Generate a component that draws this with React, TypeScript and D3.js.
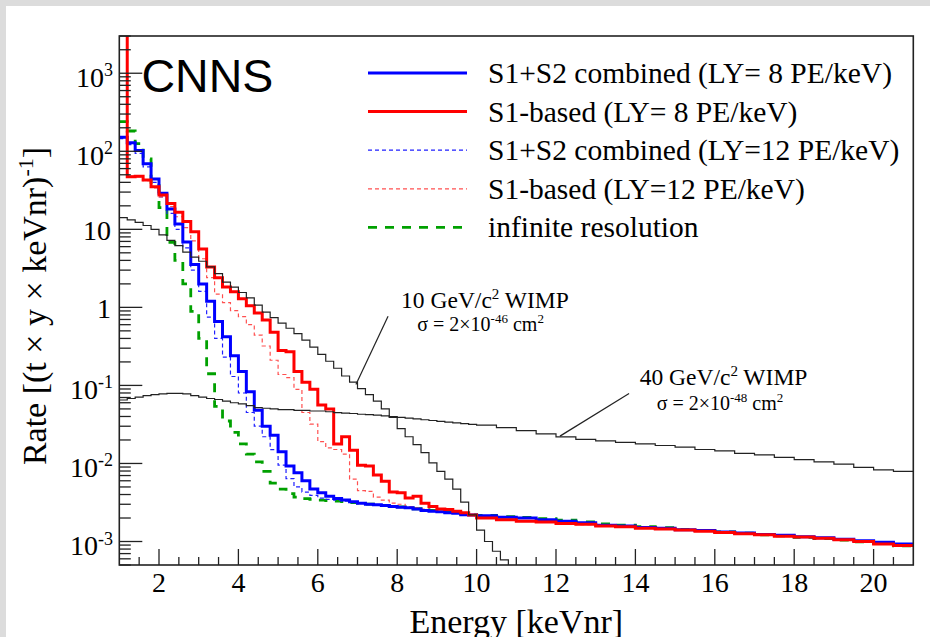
import React from "react";
import * as d3 from "d3";

const W = 930;
const H = 637;
const frame = { left: 119.3, right: 913.3, top: 36, bottom: 565 };

const xDomain: [number, number] = [1, 21];
const yDomain: [number, number] = [5e-4, 3000];
const xMajorTicks = [2, 4, 6, 8, 10, 12, 14, 16, 18, 20];
const xMinorTicks = d3.range(1.5, 21, 0.5).filter((v) => v % 2 !== 0);
const yDecades = [1e-3, 1e-2, 1e-1, 1, 10, 1e2, 1e3];
const yDecadeLabels: [string, string][] = [
  ["10", "-3"],
  ["10", "-2"],
  ["10", "-1"],
  ["1", ""],
  ["10", ""],
  ["10", "2"],
  ["10", "3"],
];

// bin edges (keVnr): 0.2 keV bins from 1 to 10, 0.5 keV bins from 10 to 21
const fineEdges = d3.range(45).map((i) => +(1 + 0.2 * i).toFixed(2));
const coarseEdges = d3.range(23).map((i) => 10 + 0.5 * i);
const binEdges = [...fineEdges, ...coarseEdges];
const wimp10Edges = d3.range(51).map((i) => +(1 + 0.2 * i).toFixed(2));

// S1+S2 combined, LY = 8 PE/keV
const blueLY8 = [
  151, 129, 102, 69, 44, 29, 18.2, 11.7, 6.9, 3.55,
  2.0, 1.2, 0.66, 0.42, 0.24, 0.151, 0.083, 0.048, 0.030, 0.023,
  0.0141, 0.0093, 0.0076, 0.006, 0.0047, 0.0042, 0.0038, 0.00355, 0.0034, 0.00324,
  0.0031, 0.003, 0.00295, 0.0029, 0.0028, 0.00275, 0.0027, 0.0026, 0.0025, 0.00245,
  0.0024, 0.00234, 0.0023, 0.0022, 0.00219,
  0.00214, 0.00204, 0.002, 0.0019, 0.00182, 0.00174, 0.00162, 0.00158, 0.00151, 0.00148, 0.00141,
  0.00138, 0.00132, 0.00129, 0.00123, 0.0012, 0.00115, 0.00112, 0.00107, 0.00102, 0.00098, 0.00093,
];

// S1-based, LY = 8 PE/keV
const redLY8 = [
  6000, 47, 48, 43, 35, 27.5, 21.4, 16.6, 12.6, 9.3,
  5.6, 3.3, 2.4, 1.82, 1.58, 1.29, 1.05, 0.85, 0.69, 0.48,
  0.28, 0.27, 0.151, 0.11, 0.089, 0.056, 0.05, 0.0178, 0.022, 0.0148,
  0.0095, 0.0093, 0.0071, 0.0059, 0.0043, 0.0042, 0.0036, 0.0038, 0.0031, 0.0028,
  0.0026, 0.00257, 0.00245, 0.00234, 0.00219,
  0.002, 0.0019, 0.00182, 0.00178, 0.0017, 0.00166, 0.00158, 0.00155, 0.00148, 0.00145, 0.0014,
  0.00135, 0.0013, 0.00126, 0.00122, 0.00117, 0.00114, 0.0011, 0.00105, 0.001, 0.00093, 0.00089,
];

// S1+S2 combined, LY = 12 PE/keV
const blueLY12 = [
  145, 122, 94, 63, 40, 26, 16, 10, 5.8, 3.0,
  1.6, 0.75, 0.4, 0.23, 0.13, 0.08, 0.045, 0.03, 0.022, 0.015,
  0.0095, 0.0064, 0.005, 0.0043, 0.0039, 0.0036, 0.00347, 0.0034, 0.0033, 0.0032,
  0.00308, 0.00298, 0.00293, 0.00288, 0.00281, 0.00274, 0.00268, 0.00259, 0.00251, 0.00246,
  0.00239, 0.00235, 0.00229, 0.00222, 0.00218,
  0.00213, 0.00205, 0.00199, 0.00191, 0.00181, 0.00175, 0.00163, 0.00157, 0.00152, 0.00147, 0.00142,
  0.00137, 0.00133, 0.00128, 0.00124, 0.00119, 0.00116, 0.00111, 0.00108, 0.00101, 0.00099, 0.00094,
];

// S1-based, LY = 12 PE/keV
const redLY12 = [
  6000, 48, 47, 42, 34, 26, 19.5, 14.5, 10.5, 7.1,
  4.2, 2.4, 1.48, 1.15, 0.91, 0.76, 0.6, 0.44, 0.32, 0.21,
  0.138, 0.126, 0.089, 0.045, 0.032, 0.019, 0.0158, 0.0151, 0.0132, 0.0063,
  0.0045, 0.0044, 0.0037, 0.0034, 0.0031, 0.003, 0.0028, 0.0027, 0.0026, 0.0025,
  0.00242, 0.00235, 0.0023, 0.0022, 0.00216,
  0.00201, 0.00192, 0.00184, 0.00178, 0.00171, 0.00165, 0.00159, 0.00154, 0.00149, 0.00145, 0.0014,
  0.00136, 0.00131, 0.00127, 0.00122, 0.00118, 0.00114, 0.0011, 0.00106, 0.00101, 0.00095, 0.0009,
];

// infinite resolution
const infiniteRes = [
  240, 182, 125, 80, 40, 19, 6.8, 4.0, 2.0, 0.89,
  0.4, 0.141, 0.054, 0.035, 0.025, 0.0178, 0.0132, 0.0105, 0.0079, 0.0056,
  0.0047, 0.0041, 0.0037, 0.00355, 0.00347, 0.0034, 0.00335, 0.0033, 0.00324, 0.00316,
  0.0031, 0.00302, 0.00296, 0.0029, 0.00283, 0.00277, 0.0027, 0.00263, 0.00256, 0.0025,
  0.00244, 0.00238, 0.00232, 0.00226, 0.0022,
  0.00216, 0.00208, 0.00203, 0.00196, 0.00188, 0.00178, 0.00168, 0.00162, 0.00155, 0.0015, 0.00143,
  0.00139, 0.00133, 0.00128, 0.00122, 0.00118, 0.00113, 0.00109, 0.00104, 0.00099, 0.00094, 0.00088,
];

// 10 GeV/c^2 WIMP, sigma = 2e-46 cm^2 (0.2 keV bins, 1 to 11 keVnr)
const wimp10 = [
  14.1, 13.2, 12.3, 11.2, 10, 8.5, 7.2, 6.2, 5.1, 4.4,
  3.9, 3.3, 2.7, 2.1, 1.82, 1.55, 1.32, 1.07, 0.87, 0.74,
  0.63, 0.54, 0.46, 0.38, 0.31, 0.25, 0.204, 0.166, 0.132, 0.11,
  0.091, 0.076, 0.063, 0.05, 0.039, 0.028, 0.022, 0.0174, 0.0138, 0.0102,
  0.0079, 0.0063, 0.0047, 0.0032, 0.0022, 0.0014, 0.001, 0.00075, 0.00058, 0.0003,
];

// 40 GeV/c^2 WIMP, sigma = 2e-48 cm^2
const wimp40 = [
  0.065, 0.068, 0.071, 0.074, 0.076, 0.078, 0.079, 0.079, 0.078, 0.074,
  0.071, 0.068, 0.066, 0.063, 0.06, 0.058, 0.055, 0.052, 0.051, 0.05,
  0.049, 0.049, 0.048, 0.048, 0.047, 0.047, 0.046, 0.0447, 0.0442, 0.0437,
  0.0427, 0.0422, 0.0417, 0.0407, 0.0398, 0.0389, 0.038, 0.0372, 0.0363, 0.0355,
  0.0347, 0.0339, 0.0331, 0.0324, 0.0316,
  0.0309, 0.0288, 0.0263, 0.024, 0.0219, 0.0204, 0.0195, 0.0186, 0.0178, 0.017, 0.0162,
  0.0151, 0.0145, 0.0135, 0.0129, 0.012, 0.0112, 0.0105, 0.0098, 0.0089, 0.0083, 0.0079,
];

const legendEntries = [
  { label: "S1+S2 combined (LY= 8 PE/keV)", color: "#0000ff", width: 3, dash: "" },
  { label: "S1-based (LY= 8 PE/keV)", color: "#ff0000", width: 3, dash: "" },
  { label: "S1+S2 combined (LY=12 PE/keV)", color: "#1f1fff", width: 1.2, dash: "4 3" },
  { label: "S1-based (LY=12 PE/keV)", color: "#ff5050", width: 1.2, dash: "4 3" },
  { label: "infinite resolution", color: "#00a000", width: 2.8, dash: "9 8" },
];

const SERIF = "'Liberation Serif', 'Times New Roman', Times, serif";
const SANS = "'Liberation Sans', Arial, Helvetica, sans-serif";

export default function App() {
  const x = d3.scaleLinear().domain(xDomain).range([frame.left, frame.right]);
  const y = d3.scaleLog().domain(yDomain).range([frame.bottom, frame.top]);

  const hist = (edges: number[], values: number[]) => {
    const pts: [number, number][] = values.map((v, i) => [edges[i], v]);
    pts.push([edges[values.length], values[values.length - 1]]);
    const line = d3
      .line<[number, number]>()
      .x((d) => x(d[0]))
      .y((d) => y(d[1]))
      .curve(d3.curveStepAfter);
    return line(pts) || "";
  };

  const yMinor: number[] = [];
  for (let e = -4; e <= 3; e++) {
    for (let k = 2; k <= 9; k++) {
      const v = k * Math.pow(10, e);
      if (v >= yDomain[0] && v <= yDomain[1]) yMinor.push(v);
    }
  }

  const series = [
    { values: infiniteRes, color: "#00a000", width: 2.8, dash: "9 8" },
    { values: blueLY12, color: "#1f1fff", width: 1.2, dash: "4 3" },
    { values: redLY12, color: "#ff5050", width: 1.2, dash: "4 3" },
    { values: blueLY8, color: "#0000ff", width: 3, dash: "" },
    { values: redLY8, color: "#ff0000", width: 3, dash: "" },
  ];

  const legendX0 = 368;
  const legendX1 = 467;
  const legendTextX = 488;
  const legendY0 = 73;
  const legendDy = 38.6;

  return (
    <div style={{ position: "absolute", left: 0, top: 0, width: W, height: H }}>
      <svg width={W} height={H} style={{ display: "block" }}>
        <defs>
          <clipPath id="plotClip">
            <rect
              x={frame.left}
              y={frame.top}
              width={frame.right - frame.left}
              height={frame.bottom - frame.top}
            />
          </clipPath>
        </defs>
        <rect x={0} y={0} width={W} height={H} fill="#ffffff" />
        <rect x={0} y={0} width={W} height={6} fill="#dcdcdc" />
        <rect x={0} y={0} width={6} height={H} fill="#dcdcdc" />

        {/* data */}
        <g clipPath="url(#plotClip)" fill="none" strokeLinejoin="miter">
          {series.map((s, i) => (
            <path
              key={i}
              d={hist(binEdges, s.values)}
              stroke={s.color}
              strokeWidth={s.width}
              strokeDasharray={s.dash || undefined}
            />
          ))}
          <path d={hist(binEdges, wimp40)} stroke="#222" strokeWidth={1.2} />
          <path d={hist(wimp10Edges, wimp10)} stroke="#222" strokeWidth={1.2} />
        </g>

        {/* frame */}
        <rect
          x={frame.left}
          y={frame.top}
          width={frame.right - frame.left}
          height={frame.bottom - frame.top}
          fill="none"
          stroke="#222"
          strokeWidth={1.6}
        />

        {/* ticks */}
        <g stroke="#222" strokeWidth={1.3}>
          {xMajorTicks.map((t) => (
            <line key={"xM" + t} x1={x(t)} x2={x(t)} y1={frame.bottom} y2={frame.bottom - 16} />
          ))}
          {xMinorTicks.map((t) => (
            <line key={"xm" + t} x1={x(t)} x2={x(t)} y1={frame.bottom} y2={frame.bottom - 8} />
          ))}
          {yDecades.map((t) => (
            <line key={"yM" + t} x1={frame.left} x2={frame.left + 23} y1={y(t)} y2={y(t)} />
          ))}
          {yMinor.map((t) => (
            <line key={"ym" + t} x1={frame.left} x2={frame.left + 11.5} y1={y(t)} y2={y(t)} />
          ))}
        </g>

        {/* x tick labels */}
        <g fontFamily={SERIF} fontSize={28} fill="#000" textAnchor="middle">
          {xMajorTicks.map((t) => (
            <text key={"xl" + t} x={x(t)} y={592}>
              {t}
            </text>
          ))}
        </g>

        {/* y tick labels */}
        <g fontFamily={SERIF} fontSize={28} fill="#000" textAnchor="end">
          {yDecades.map((t, i) => {
            const [base, exp] = yDecadeLabels[i];
            return exp ? (
              <text key={"yl" + t} x={113} y={y(t) + 13.5}>
                {base}
                <tspan dy={-10.5} fontSize={18}>
                  {exp}
                </tspan>
              </text>
            ) : (
              <text key={"yl" + t} x={111} y={y(t) + 11}>
                {base}
              </text>
            );
          })}
        </g>

        {/* axis titles */}
        <text
          x={(frame.left + frame.right) / 2}
          y={633}
          fontFamily={SERIF}
          fontSize={34}
          textAnchor="middle"
          fill="#000"
        >
          Energy [keVnr]
        </text>
        <text
          transform={`translate(46, 306) rotate(-90)`}
          fontFamily={SERIF}
          fontSize={34}
          textAnchor="middle"
          fill="#000"
        >
          Rate [(t × y × keVnr)
          <tspan dy={-13} fontSize={22}>
            -1
          </tspan>
          <tspan dy={13}>]</tspan>
        </text>

        {/* CNNS label */}
        <text x={141.5} y={91.7} fontFamily={SANS} fontSize={46.5} fill="#000">
          CNNS
        </text>

        {/* legend */}
        <g fontFamily={SERIF} fontSize={29.5} fill="#000">
          {legendEntries.map((e, i) => {
            const yy = legendY0 + i * legendDy;
            return (
              <g key={"lg" + i}>
                <line
                  x1={legendX0}
                  x2={legendX1}
                  y1={yy}
                  y2={yy}
                  stroke={e.color}
                  strokeWidth={e.width}
                  strokeDasharray={e.dash || undefined}
                />
                <text x={legendTextX} y={yy + 10}>
                  {e.label}
                </text>
              </g>
            );
          })}
        </g>

        {/* annotations */}
        <g stroke="#222" strokeWidth={1.2}>
          <line x1={x(7.77)} y1={y(0.77)} x2={x(6.96)} y2={y(0.103)} />
          <line x1={x(13.84)} y1={y(0.079)} x2={x(12.1)} y2={y(0.0224)} />
        </g>
        <g fontFamily={SERIF} fill="#000" textAnchor="middle">
          <text x={x(10.21)} y={y(0.99)} fontSize={23.5}>
            10 GeV/c
            <tspan dy={-9} fontSize={15}>
              2
            </tspan>
            <tspan dy={9}> WIMP</tspan>
          </text>
          <text x={x(10.1)} y={y(0.5)} fontSize={20}>
            σ = 2×10
            <tspan dy={-8} fontSize={13}>
              -46
            </tspan>
            <tspan dy={8}> cm</tspan>
            <tspan dy={-8} fontSize={13}>
              2
            </tspan>
          </text>
          <text x={x(16.22)} y={y(0.1)} fontSize={23.5}>
            40 GeV/c
            <tspan dy={-9} fontSize={15}>
              2
            </tspan>
            <tspan dy={9}> WIMP</tspan>
          </text>
          <text x={x(16.13)} y={y(0.048)} fontSize={20}>
            σ = 2×10
            <tspan dy={-8} fontSize={13}>
              -48
            </tspan>
            <tspan dy={8}> cm</tspan>
            <tspan dy={-8} fontSize={13}>
              2
            </tspan>
          </text>
        </g>
      </svg>
    </div>
  );
}
